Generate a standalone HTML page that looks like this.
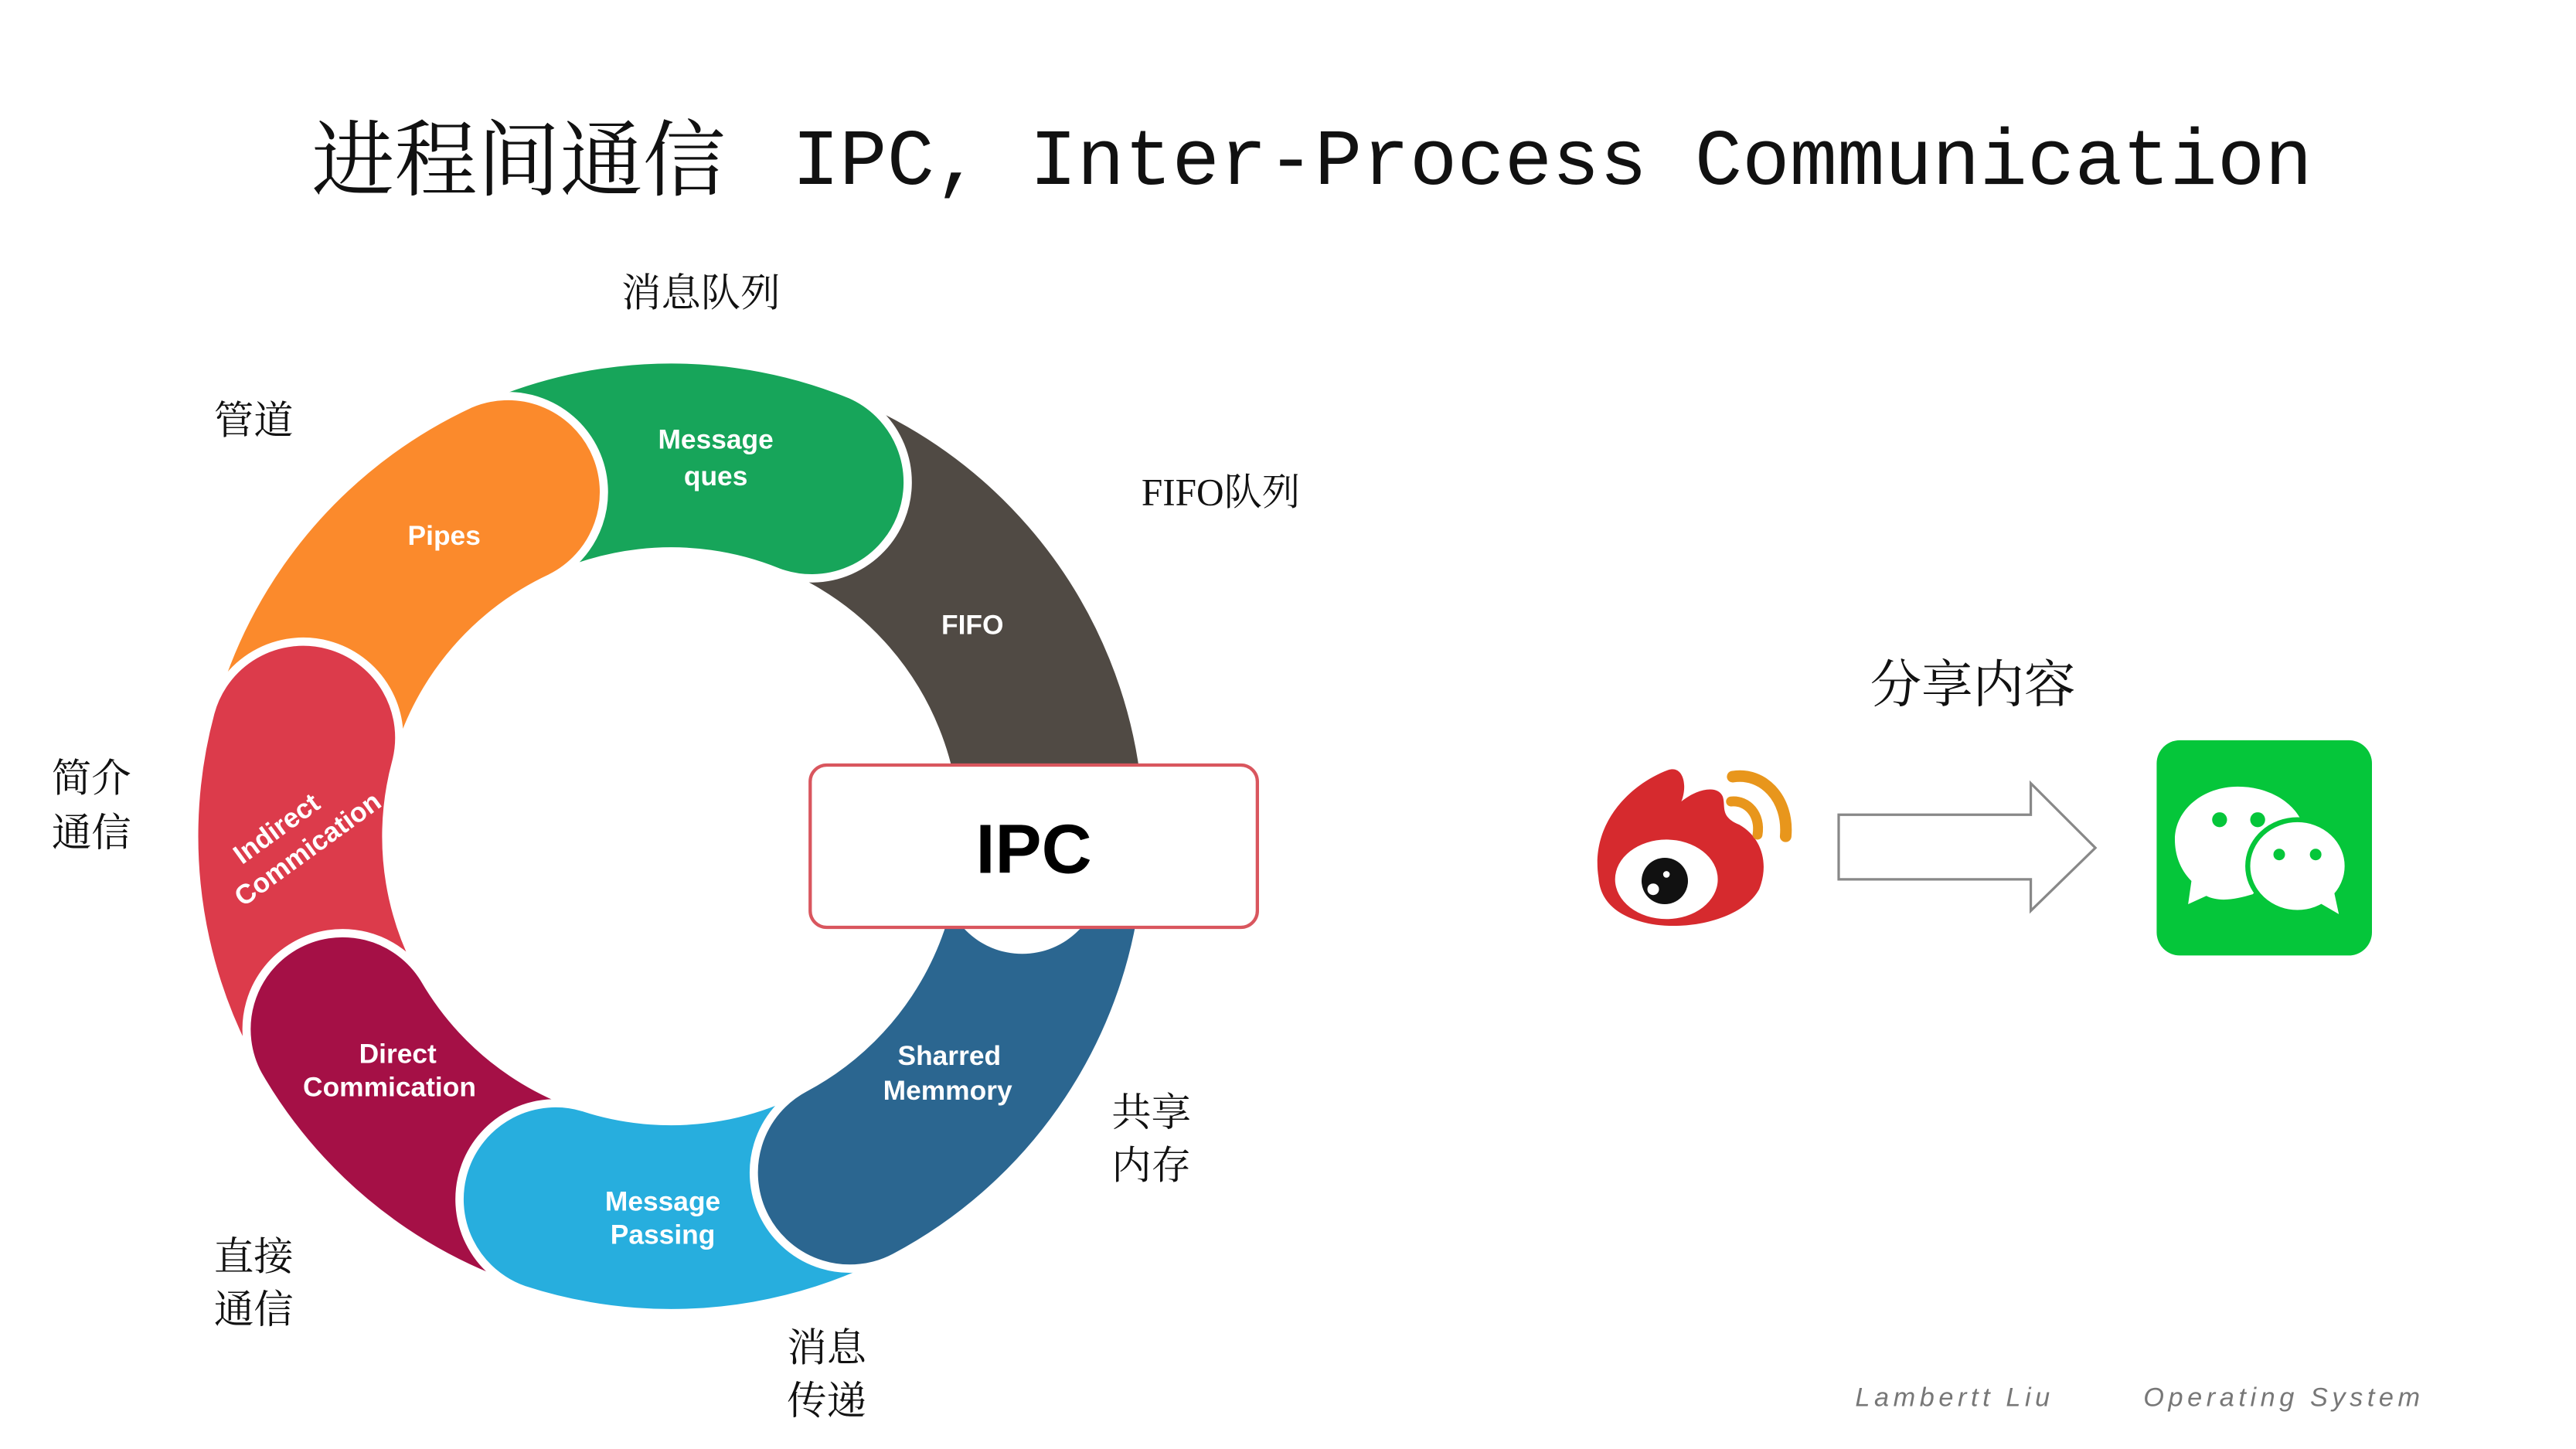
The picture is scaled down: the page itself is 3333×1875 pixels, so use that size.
<!DOCTYPE html>
<html><head><meta charset="utf-8"><style>
html,body{margin:0;padding:0;background:#fff;}
svg{display:block;}
.cn{font-family:"Liberation Serif","Noto Serif CJK SC",serif;fill:#111;}
.w{font-family:"Liberation Sans","DejaVu Sans",sans-serif;font-weight:bold;fill:#fff;font-size:16.5px;text-anchor:middle;}
</style></head><body>
<svg id="s" width="3333" height="1875" viewBox="0 0 1555 875" xmlns="http://www.w3.org/2000/svg">
<rect width="1555" height="875" fill="#fff"/>
<text x="188" y="114" class="cn" font-size="50">进程间通信</text>
<text x="478" y="111" font-family="Liberation Mono,monospace" font-size="48" fill="#111" textLength="918" lengthAdjust="spacingAndGlyphs">IPC, Inter-Process Communication</text>
<g id="ring"></g>
<text class="w" x="432" y="271">Message</text><text class="w" x="432" y="293">ques</text>
<text class="w" x="268" y="329">Pipes</text>
<text class="w" x="587" y="383">FIFO</text>
<text class="w" x="573" y="643">Sharred</text><text class="w" x="572" y="664">Memmory</text>
<text class="w" x="400" y="731">Message</text><text class="w" x="400" y="751">Passing</text>
<text class="w" x="240" y="642">Direct</text><text class="w" x="235" y="662">Commication</text>
<g transform="translate(180,505) rotate(-36)"><text class="w" x="-8" y="-6">Indirect</text><text class="w" x="0" y="15">Commication</text></g>
<rect x="489" y="462" width="270" height="98" rx="10" fill="#fff" stroke="#d9565e" stroke-width="2"/>
<text x="624" y="527" text-anchor="middle" font-family="Liberation Sans,sans-serif" font-weight="bold" font-size="42" fill="#000">IPC</text>
<g class="cn" font-size="24">
<text x="375" y="185">消息队列</text>
<text x="129" y="262">管道</text>
<text x="689" y="305" font-size="23">FIFO队列</text>
<text x="31" y="478">简介</text><text x="31" y="511">通信</text>
<text x="129" y="767">直接</text><text x="129" y="799">通信</text>
<text x="475" y="822">消息</text><text x="475" y="854">传递</text>
<text x="671" y="680">共享</text><text x="671" y="712">内存</text>
<text x="1129" y="424" font-size="31">分享内容</text>
</g>
<path d="M1110,492 H1226 V473 L1265,512 L1226,550 V531 H1110 Z" fill="#fff" stroke="#888" stroke-width="1.5"/>
<!-- weibo -->
<path d="M965,530 C960,498 983,474 1007,465 C1016,462 1019,474 1015,484 C1025,476 1037,474 1040,481 C1042,487 1038,493 1050,498 C1064,506 1068,522 1062,537 C1052,555 1020,562 997,558 C976,554 966,544 965,530 Z" fill="#d62a2e"/>
<ellipse cx="1006" cy="531" rx="31" ry="24" fill="#fff"/>
<ellipse cx="1005" cy="532" rx="14" ry="14" fill="#111"/>
<circle cx="998" cy="537" r="3.5" fill="#fff"/><circle cx="1006" cy="528" r="2" fill="#fff"/>
<path d="M1046,469 C1064,466 1080,482 1078,505" fill="none" stroke="#e8961c" stroke-width="7" stroke-linecap="round"/>
<path d="M1045,484 C1055,483 1063,492 1061,504" fill="none" stroke="#e8961c" stroke-width="6" stroke-linecap="round"/>
<!-- wechat -->
<rect x="1302" y="447" width="130" height="130" rx="14" fill="#05c63a"/>
<path d="M1351,475 C1373,475 1390,488 1392,504 L1360,540 C1350,543 1340,545 1332,541 L1321,546 L1323,532 C1316,525 1313,516 1313,507 C1313,489 1330,475 1351,475 Z" fill="#fff"/>
<circle cx="1340" cy="495" r="4.5" fill="#05c63a"/><circle cx="1363" cy="495" r="4.5" fill="#05c63a"/>
<ellipse cx="1387" cy="523" rx="30" ry="28" fill="#fff" stroke="#05c63a" stroke-width="3"/>
<path d="M1400,545 L1412,552 L1409,538 Z" fill="#fff"/>
<circle cx="1376" cy="516" r="3.5" fill="#05c63a"/><circle cx="1398" cy="516" r="3.5" fill="#05c63a"/>
<text x="1120" y="849" font-family="Liberation Sans,sans-serif" font-style="italic" font-size="16" fill="#777" letter-spacing="2.6">Lambertt Liu</text>
<text x="1294" y="849" font-family="Liberation Sans,sans-serif" font-style="italic" font-size="16" fill="#777" letter-spacing="2.6">Operating System</text>
</svg>
<script>
(function(){
var cx=405,cy=505,R=288,r=172,c=(R-r)/2;
function p(rad,a){a=a*Math.PI/180;return (cx+rad*Math.cos(a)).toFixed(1)+","+(cy+rad*Math.sin(a)).toFixed(1);}
function seg(a0,a1,col){
 return '<path d="M'+p(R,a0)+' A'+R+','+R+' 0 0 1 '+p(R,a1)+' A'+c+','+c+' 0 0 1 '+p(r,a1)+' A'+r+','+r+' 0 0 0 '+p(r,a0)+' Z" fill="'+col+'" stroke="#fff" stroke-width="5"/>';
}
var h='';
h+=seg(282,356,'#504a44');
h+=seg(235,292,'#17a55a');
h+=seg(185,245,'#fb8a2c');
h+=seg(140,195,'#dc3b4b');
h+=seg(98,150,'#a51046');
h+=seg(52,108,'#27aede');
h+=seg(5,62,'#2b6690');
h+='<circle cx="617" cy="528" r="48" fill="#fff"/>';
document.getElementById('ring').innerHTML=h;
})();
</script>
</body></html>
